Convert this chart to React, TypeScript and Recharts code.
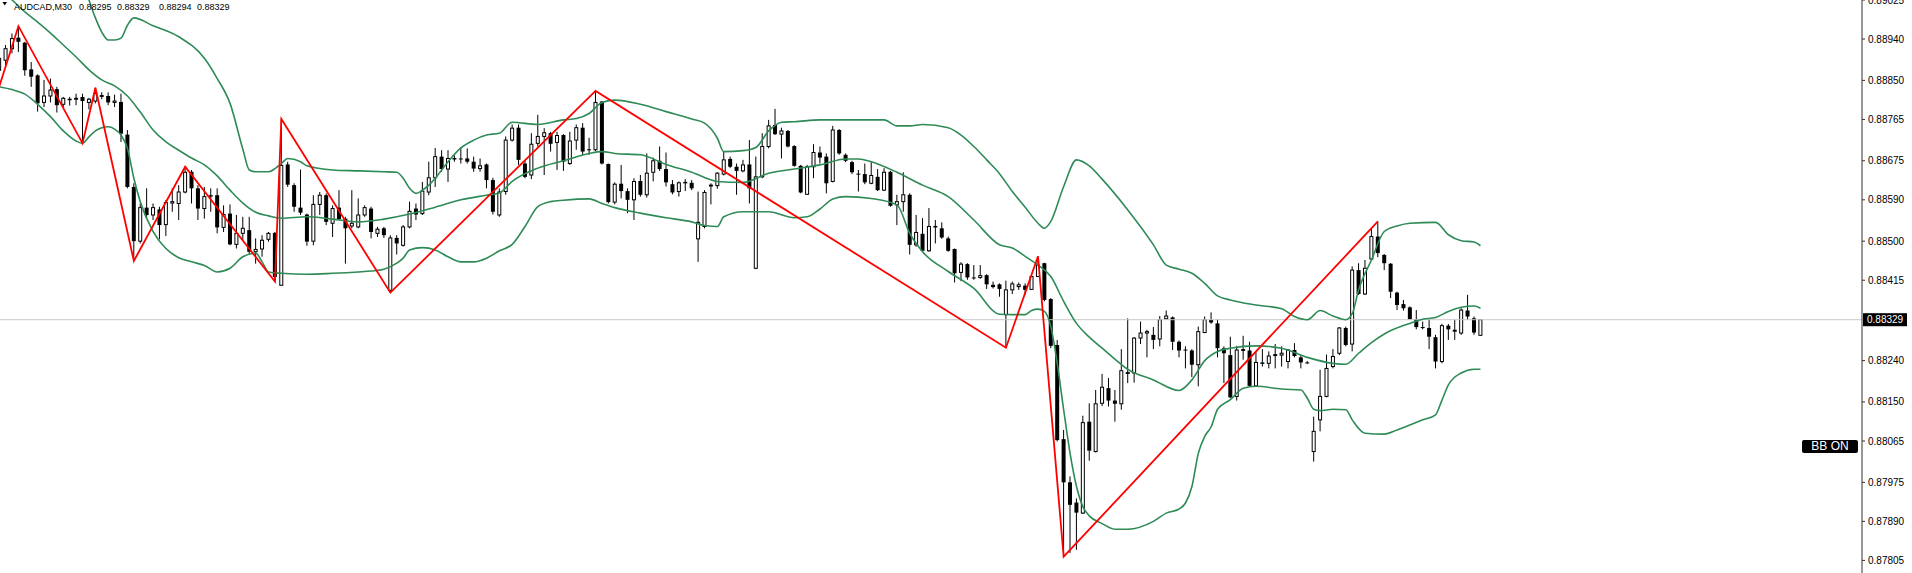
import { ComposedChart, Bar, Line, XAxis, YAxis, ReferenceLine } from 'recharts';

// AUDCAD M30 candles (oldest first)
const OPEN = [
  0.88872, 0.88894, 0.88919, 0.88943, 0.88932, 0.88874, 0.88861, 0.88802, 0.88816, 0.88831,
  0.88798, 0.88808, 0.88809, 0.88814, 0.88802, 0.88805, 0.88818, 0.88816, 0.88802, 0.88803,
  0.88732, 0.88618, 0.88500, 0.88573, 0.88557, 0.88569, 0.88536, 0.88583, 0.88582, 0.88607,
  0.88651, 0.88615, 0.88571, 0.88600, 0.88600, 0.88530, 0.88560, 0.88493, 0.88517, 0.88524,
  0.88477, 0.88483, 0.88504, 0.88518, 0.88404, 0.88667, 0.88622, 0.88573, 0.88558, 0.88500,
  0.88580, 0.88600, 0.88539, 0.88573, 0.88549, 0.88533, 0.88531, 0.88557, 0.88571, 0.88517,
  0.88528, 0.88393, 0.88507, 0.88491, 0.88531, 0.88571, 0.88560, 0.88607, 0.88638, 0.88684,
  0.88657, 0.88679, 0.88680, 0.88680, 0.88673, 0.88658, 0.88667, 0.88633, 0.88557, 0.88608,
  0.88720, 0.88747, 0.88669, 0.88644, 0.88713, 0.88728, 0.88735, 0.88715, 0.88731, 0.88669,
  0.88720, 0.88747, 0.88700, 0.88699, 0.88804, 0.88668, 0.88585, 0.88625, 0.88609, 0.88590,
  0.88631, 0.88601, 0.88650, 0.88675, 0.88657, 0.88624, 0.88608, 0.88627, 0.88627, 0.88505,
  0.88532, 0.88620, 0.88621, 0.88646, 0.88679, 0.88662, 0.88653, 0.88667, 0.88441, 0.88640,
  0.88706, 0.88753, 0.88733, 0.88740, 0.88707, 0.88664, 0.88602, 0.88662, 0.88693, 0.88684,
  0.88630, 0.88742, 0.88688, 0.88672, 0.88647, 0.88646, 0.88626, 0.88640, 0.88611, 0.88651,
  0.88579, 0.88586, 0.88601, 0.88492, 0.88516, 0.88479, 0.88531, 0.88528, 0.88506, 0.88483,
  0.88432, 0.88450, 0.88421, 0.88421, 0.88426, 0.88405, 0.88406, 0.88340, 0.88394, 0.88401,
  0.88403, 0.88395, 0.88423, 0.88452, 0.88374, 0.88274, 0.88069, 0.87975, 0.87931, 0.87908,
  0.88107, 0.88042, 0.88147, 0.88180, 0.88153, 0.88146, 0.88215, 0.88213, 0.88289, 0.88300,
  0.88296, 0.88287, 0.88331, 0.88334, 0.88281, 0.88264, 0.88262, 0.88231, 0.88301, 0.88329,
  0.88321, 0.88267, 0.88252, 0.88162, 0.88265, 0.88262, 0.88185, 0.88234, 0.88234, 0.88251,
  0.88252, 0.88238, 0.88263, 0.88247, 0.88236, 0.88042, 0.88111, 0.88162, 0.88227, 0.88256,
  0.88311, 0.88276, 0.88437, 0.88385, 0.88461, 0.88510, 0.88470, 0.88451, 0.88388, 0.88363,
  0.88356, 0.88330, 0.88313, 0.88311, 0.88291, 0.88238, 0.88316, 0.88304, 0.88300, 0.88349,
  0.88332, 0.88295,
];

const HIGH = [
  0.88905, 0.88927, 0.88952, 0.88968, 0.88934, 0.88890, 0.88863, 0.88851, 0.88854, 0.88836,
  0.88814, 0.88814, 0.88821, 0.88821, 0.88812, 0.88834, 0.88824, 0.88824, 0.88819, 0.88821,
  0.88742, 0.88626, 0.88582, 0.88615, 0.88582, 0.88575, 0.88589, 0.88615, 0.88622, 0.88662,
  0.88655, 0.88622, 0.88618, 0.88615, 0.88615, 0.88578, 0.88580, 0.88557, 0.88553, 0.88553,
  0.88506, 0.88513, 0.88520, 0.88520, 0.88766, 0.88673, 0.88626, 0.88656, 0.88560, 0.88600,
  0.88607, 0.88604, 0.88578, 0.88611, 0.88553, 0.88611, 0.88593, 0.88578, 0.88575, 0.88531,
  0.88531, 0.88513, 0.88513, 0.88535, 0.88586, 0.88582, 0.88629, 0.88673, 0.88703, 0.88698,
  0.88698, 0.88687, 0.88705, 0.88702, 0.88684, 0.88680, 0.88669, 0.88638, 0.88615, 0.88728,
  0.88754, 0.88754, 0.88675, 0.88735, 0.88775, 0.88746, 0.88738, 0.88738, 0.88733, 0.88738,
  0.88754, 0.88757, 0.88725, 0.88827, 0.88805, 0.88669, 0.88628, 0.88666, 0.88615, 0.88637,
  0.88644, 0.88691, 0.88682, 0.88706, 0.88693, 0.88633, 0.88630, 0.88635, 0.88633, 0.88608,
  0.88611, 0.88626, 0.88650, 0.88696, 0.88684, 0.88669, 0.88677, 0.88720, 0.88684, 0.88735,
  0.88764, 0.88788, 0.88747, 0.88742, 0.88709, 0.88666, 0.88666, 0.88711, 0.88706, 0.88691,
  0.88751, 0.88744, 0.88691, 0.88675, 0.88655, 0.88669, 0.88672, 0.88657, 0.88659, 0.88653,
  0.88601, 0.88650, 0.88604, 0.88557, 0.88550, 0.88572, 0.88546, 0.88541, 0.88510, 0.88484,
  0.88454, 0.88452, 0.88448, 0.88448, 0.88428, 0.88412, 0.88408, 0.88414, 0.88412, 0.88410,
  0.88408, 0.88429, 0.88467, 0.88453, 0.88376, 0.88285, 0.88089, 0.87988, 0.87940, 0.88120,
  0.88147, 0.88176, 0.88211, 0.88202, 0.88176, 0.88265, 0.88332, 0.88291, 0.88325, 0.88307,
  0.88313, 0.88337, 0.88349, 0.88336, 0.88284, 0.88271, 0.88265, 0.88314, 0.88336, 0.88345,
  0.88330, 0.88271, 0.88292, 0.88272, 0.88294, 0.88281, 0.88260, 0.88265, 0.88260, 0.88276,
  0.88271, 0.88265, 0.88278, 0.88252, 0.88239, 0.88118, 0.88220, 0.88253, 0.88265, 0.88313,
  0.88314, 0.88445, 0.88452, 0.88459, 0.88528, 0.88543, 0.88472, 0.88452, 0.88390, 0.88372,
  0.88358, 0.88350, 0.88325, 0.88329, 0.88296, 0.88320, 0.88320, 0.88329, 0.88354, 0.88383,
  0.88336, 0.88329,
];

const LOW = [
  0.88869, 0.88883, 0.88909, 0.88912, 0.88860, 0.88836, 0.88782, 0.88792, 0.88802, 0.88780,
  0.88792, 0.88795, 0.88796, 0.88713, 0.88787, 0.88800, 0.88809, 0.88796, 0.88792, 0.88716,
  0.88615, 0.88457, 0.88495, 0.88549, 0.88546, 0.88504, 0.88511, 0.88564, 0.88546, 0.88604,
  0.88582, 0.88546, 0.88549, 0.88564, 0.88517, 0.88520, 0.88491, 0.88484, 0.88502, 0.88473,
  0.88451, 0.88466, 0.88499, 0.88412, 0.88403, 0.88618, 0.88564, 0.88557, 0.88490, 0.88491,
  0.88557, 0.88535, 0.88509, 0.88546, 0.88451, 0.88528, 0.88528, 0.88553, 0.88506, 0.88509,
  0.88507, 0.88388, 0.88471, 0.88488, 0.88528, 0.88546, 0.88557, 0.88600, 0.88618, 0.88651,
  0.88629, 0.88673, 0.88669, 0.88669, 0.88651, 0.88651, 0.88615, 0.88558, 0.88553, 0.88601,
  0.88717, 0.88666, 0.88637, 0.88635, 0.88706, 0.88644, 0.88695, 0.88655, 0.88653, 0.88666,
  0.88699, 0.88688, 0.88688, 0.88696, 0.88667, 0.88582, 0.88580, 0.88593, 0.88561, 0.88546,
  0.88597, 0.88595, 0.88630, 0.88653, 0.88619, 0.88602, 0.88597, 0.88609, 0.88611, 0.88455,
  0.88528, 0.88580, 0.88614, 0.88643, 0.88659, 0.88601, 0.88650, 0.88582, 0.88439, 0.88637,
  0.88702, 0.88731, 0.88680, 0.88704, 0.88662, 0.88604, 0.88601, 0.88637, 0.88669, 0.88604,
  0.88628, 0.88688, 0.88672, 0.88646, 0.88608, 0.88624, 0.88624, 0.88609, 0.88609, 0.88575,
  0.88535, 0.88564, 0.88471, 0.88488, 0.88477, 0.88477, 0.88495, 0.88505, 0.88477, 0.88410,
  0.88413, 0.88416, 0.88416, 0.88418, 0.88396, 0.88397, 0.88379, 0.88268, 0.88385, 0.88394,
  0.88383, 0.88394, 0.88422, 0.88369, 0.88267, 0.88064, 0.87813, 0.87821, 0.87828, 0.87906,
  0.88022, 0.88040, 0.88141, 0.88140, 0.88107, 0.88133, 0.88191, 0.88192, 0.88276, 0.88247,
  0.88265, 0.88271, 0.88329, 0.88263, 0.88247, 0.88223, 0.88204, 0.88184, 0.88300, 0.88320,
  0.88247, 0.88191, 0.88158, 0.88153, 0.88242, 0.88182, 0.88184, 0.88227, 0.88223, 0.88223,
  0.88227, 0.88223, 0.88247, 0.88223, 0.88233, 0.88020, 0.88086, 0.88160, 0.88223, 0.88252,
  0.88271, 0.88260, 0.88383, 0.88383, 0.88459, 0.88465, 0.88437, 0.88376, 0.88350, 0.88349,
  0.88329, 0.88308, 0.88308, 0.88265, 0.88223, 0.88234, 0.88285, 0.88285, 0.88296, 0.88329,
  0.88296, 0.88294,
];

const CLOSE = [
  0.88898, 0.88919, 0.88941, 0.88934, 0.88872, 0.88858, 0.88800, 0.88816, 0.88829, 0.88796,
  0.88811, 0.88809, 0.88811, 0.88805, 0.88809, 0.88821, 0.88814, 0.88802, 0.88805, 0.88734,
  0.88618, 0.88500, 0.88573, 0.88557, 0.88573, 0.88535, 0.88584, 0.88586, 0.88607, 0.88650,
  0.88615, 0.88571, 0.88597, 0.88597, 0.88530, 0.88558, 0.88493, 0.88517, 0.88528, 0.88477,
  0.88482, 0.88502, 0.88517, 0.88422, 0.88665, 0.88623, 0.88575, 0.88562, 0.88499, 0.88580,
  0.88600, 0.88542, 0.88571, 0.88548, 0.88528, 0.88539, 0.88557, 0.88573, 0.88520, 0.88526,
  0.88513, 0.88507, 0.88495, 0.88531, 0.88565, 0.88558, 0.88609, 0.88638, 0.88684, 0.88657,
  0.88680, 0.88680, 0.88678, 0.88673, 0.88658, 0.88664, 0.88633, 0.88564, 0.88607, 0.88720,
  0.88746, 0.88677, 0.88640, 0.88711, 0.88728, 0.88736, 0.88712, 0.88730, 0.88673, 0.88718,
  0.88747, 0.88695, 0.88698, 0.88802, 0.88669, 0.88585, 0.88624, 0.88609, 0.88590, 0.88630,
  0.88601, 0.88648, 0.88675, 0.88657, 0.88628, 0.88606, 0.88627, 0.88628, 0.88615, 0.88541,
  0.88606, 0.88622, 0.88648, 0.88677, 0.88662, 0.88653, 0.88666, 0.88615, 0.88640, 0.88706,
  0.88751, 0.88733, 0.88740, 0.88706, 0.88664, 0.88606, 0.88662, 0.88693, 0.88682, 0.88626,
  0.88742, 0.88691, 0.88675, 0.88650, 0.88646, 0.88628, 0.88643, 0.88611, 0.88650, 0.88577,
  0.88586, 0.88601, 0.88492, 0.88519, 0.88479, 0.88532, 0.88532, 0.88508, 0.88479, 0.88430,
  0.88450, 0.88421, 0.88420, 0.88425, 0.88406, 0.88400, 0.88396, 0.88394, 0.88407, 0.88405,
  0.88394, 0.88423, 0.88448, 0.88372, 0.88272, 0.88067, 0.87975, 0.87926, 0.87909, 0.88105,
  0.88044, 0.88146, 0.88182, 0.88153, 0.88146, 0.88218, 0.88211, 0.88289, 0.88300, 0.88303,
  0.88285, 0.88329, 0.88337, 0.88281, 0.88262, 0.88263, 0.88231, 0.88303, 0.88329, 0.88323,
  0.88267, 0.88256, 0.88160, 0.88263, 0.88261, 0.88185, 0.88236, 0.88235, 0.88250, 0.88253,
  0.88256, 0.88263, 0.88250, 0.88236, 0.88235, 0.88086, 0.88162, 0.88223, 0.88249, 0.88311,
  0.88274, 0.88437, 0.88385, 0.88441, 0.88510, 0.88474, 0.88452, 0.88390, 0.88361, 0.88354,
  0.88330, 0.88313, 0.88312, 0.88292, 0.88238, 0.88316, 0.88308, 0.88306, 0.88350, 0.88336,
  0.88301, 0.88329,
];

// Bollinger bands as [bar, price]
const BB_UPPER: [number, number][] = [
  [0, 0.8925], [4, 0.8924], [8, 0.892], [12, 0.8911], [14, 0.89025], [15, 0.88986], [16, 0.88955],
  [17, 0.88938], [18, 0.88938], [19, 0.88942], [20, 0.8897], [21, 0.88986], [24, 0.88969],
  [28, 0.88945], [32, 0.88898], [34, 0.88854], [36, 0.888], [38, 0.887], [39, 0.88655],
  [40, 0.88651], [42, 0.88651], [44, 0.88669], [45, 0.8868], [47, 0.88673], [48, 0.88664],
  [52, 0.88655], [56, 0.88653], [60, 0.88651], [62, 0.8865], [63, 0.88637], [64, 0.88615],
  [65, 0.88604], [66, 0.88611], [67, 0.88622], [68, 0.88637], [70, 0.88673], [72, 0.88703],
  [74, 0.8872], [76, 0.88731], [78, 0.88735], [80, 0.88759], [84, 0.88754], [88, 0.88764],
  [90, 0.88767], [92, 0.88778], [94, 0.88802], [96, 0.88807], [100, 0.88798], [104, 0.88782],
  [108, 0.88766], [110, 0.88757], [112, 0.88724], [113, 0.88695], [116, 0.88697], [118, 0.88704],
  [120, 0.8874], [122, 0.88759], [124, 0.8876], [128, 0.88764], [132, 0.88764], [136, 0.88764],
  [138, 0.88764], [140, 0.88751], [142, 0.88751], [144, 0.88754], [148, 0.88747], [150, 0.88731],
  [152, 0.88706], [154, 0.88677], [156, 0.88647], [158, 0.88608], [160, 0.88574], [162, 0.88539],
  [163, 0.88528], [164, 0.88543], [166, 0.88619], [168, 0.88677], [170, 0.88664], [172, 0.88635],
  [176, 0.88568], [180, 0.88492], [182, 0.88448], [184, 0.88439], [186, 0.8843], [188, 0.88408],
  [190, 0.88381], [192, 0.88372], [196, 0.88361], [200, 0.88353], [202, 0.88336], [204, 0.88329],
  [206, 0.88349], [208, 0.88337], [210, 0.88329], [211, 0.88342], [212, 0.88394], [214, 0.88459],
  [216, 0.88521], [218, 0.88533], [220, 0.88539], [224, 0.88541], [226, 0.88514], [228, 0.88501],
  [230, 0.88498], [231, 0.8849],
];

const BB_MIDDLE: [number, number][] = [
  [0, 0.89047], [2, 0.89025], [4, 0.88999], [6, 0.88977], [8, 0.88953], [10, 0.88927],
  [12, 0.88901], [14, 0.88873], [16, 0.88851], [18, 0.88838], [20, 0.88816], [22, 0.88781],
  [24, 0.88742], [26, 0.88716], [28, 0.88698], [30, 0.88681], [32, 0.88666], [34, 0.88642],
  [36, 0.88611], [38, 0.88583], [40, 0.88563], [42, 0.88555], [44, 0.8855], [48, 0.88553],
  [52, 0.88548], [56, 0.88542], [60, 0.88548], [64, 0.88559], [68, 0.88574], [72, 0.8859],
  [76, 0.886], [78, 0.88605], [80, 0.8863], [84, 0.88659], [88, 0.88675], [92, 0.88691],
  [94, 0.88695], [96, 0.88691], [100, 0.88688], [104, 0.88667], [108, 0.8865], [112, 0.8863],
  [116, 0.88628], [120, 0.88648], [124, 0.88657], [128, 0.88666], [132, 0.88679], [134, 0.88679],
  [136, 0.88673], [140, 0.8865], [144, 0.88622], [148, 0.88597], [152, 0.88546], [156, 0.88492],
  [158, 0.88485], [160, 0.88467], [162, 0.88448], [164, 0.88423], [166, 0.88369], [168, 0.88321],
  [170, 0.88291], [172, 0.88267], [174, 0.88243], [176, 0.88221], [180, 0.88198], [184, 0.88175],
  [186, 0.88198], [188, 0.8824], [190, 0.8826], [192, 0.88267], [196, 0.88272], [200, 0.88267],
  [204, 0.88247], [208, 0.88234], [210, 0.88232], [212, 0.88256], [214, 0.88279], [216, 0.88298],
  [220, 0.88321], [222, 0.8833], [224, 0.88334], [226, 0.88347], [228, 0.88356], [230, 0.88359],
  [231, 0.88354],
];

const BB_LOWER: [number, number][] = [
  [0, 0.88836], [2, 0.8883], [4, 0.8882], [6, 0.88798], [8, 0.88771], [10, 0.8874], [12, 0.88718],
  [13, 0.88713], [14, 0.88727], [15, 0.8874], [16, 0.88747], [17, 0.88749], [18, 0.88744],
  [19, 0.88731], [20, 0.88702], [21, 0.88637], [22, 0.88586], [24, 0.88521], [26, 0.88484],
  [28, 0.88464], [30, 0.88455], [32, 0.88447], [34, 0.88433], [36, 0.88441], [38, 0.88466],
  [40, 0.88474], [41, 0.88455], [42, 0.88433], [44, 0.8843], [48, 0.88428], [52, 0.8843],
  [56, 0.88433], [58, 0.88435], [60, 0.88439], [62, 0.88452], [63, 0.88463], [64, 0.88481],
  [66, 0.88486], [68, 0.88481], [70, 0.88466], [72, 0.88455], [74, 0.88455], [76, 0.88463],
  [78, 0.88479], [80, 0.88493], [82, 0.88532], [84, 0.88575], [86, 0.88586], [88, 0.88589],
  [92, 0.88592], [94, 0.88582], [96, 0.88573], [100, 0.88561], [104, 0.88551], [108, 0.88542],
  [110, 0.88534], [112, 0.88532], [113, 0.88553], [116, 0.88564], [120, 0.88564], [124, 0.88551],
  [126, 0.88553], [128, 0.8857], [130, 0.88592], [132, 0.88597], [136, 0.88593], [140, 0.88579],
  [142, 0.88517], [144, 0.88477], [148, 0.88434], [152, 0.88397], [156, 0.88341], [158, 0.8834],
  [160, 0.8834], [161, 0.88349], [162, 0.88352], [163, 0.88347], [164, 0.88314], [165, 0.88234],
  [166, 0.88133], [167, 0.88038], [168, 0.87966], [169, 0.87922], [170, 0.87902], [172, 0.87885],
  [174, 0.87873], [176, 0.87873], [180, 0.8789], [182, 0.87908], [184, 0.87917], [185, 0.8793],
  [186, 0.87966], [187, 0.88038], [188, 0.88075], [189, 0.88096], [190, 0.88134], [192, 0.88155],
  [194, 0.8818], [196, 0.88184], [200, 0.88178], [203, 0.88176], [204, 0.88158], [205, 0.88134],
  [206, 0.88131], [208, 0.88134], [210, 0.88133], [211, 0.88111], [213, 0.88082], [216, 0.8808],
  [218, 0.88089], [222, 0.88111], [224, 0.88122], [225, 0.88154], [226, 0.88187], [228, 0.88213],
  [230, 0.88221], [231, 0.88221],
];

// ZigZag pivots as [bar, price]
const ZIGZAG: [number, number][] = [
  [0, 0.88836], [3, 0.88968], [13, 0.88713], [15, 0.88834], [21, 0.88457], [29, 0.88662],
  [43, 0.88412], [44, 0.88766], [61, 0.88388], [93, 0.88827], [157, 0.88268], [162, 0.88467],
  [166, 0.87813], [215, 0.88543],
];

const PRICE_TICKS = [
  0.89025, 0.8894, 0.8885, 0.88765, 0.88675, 0.8859, 0.885, 0.88415,
  0.8824, 0.8815, 0.88065, 0.87975, 0.8789, 0.87805,
];

const SLOTS = 291; // bars plus the empty shift area on the right
const BB_COLOR = '#2e8b57';
const FONT = '"Liberation Sans", Arial, sans-serif';

type Row = {
  i: number;
  open: number | null;
  high: number | null;
  low: number | null;
  close: number | null;
  range: [number, number] | null;
  upper: number | null;
  middle: number | null;
  lower: number | null;
  zz: number | null;
};

const rows: Row[] = Array.from({ length: SLOTS }, (_, i) => {
  const has = i < OPEN.length;
  return {
    i,
    open: has ? OPEN[i] : null,
    high: has ? HIGH[i] : null,
    low: has ? LOW[i] : null,
    close: has ? CLOSE[i] : null,
    range: has ? [LOW[i], HIGH[i]] : null,
    upper: null,
    middle: null,
    lower: null,
    zz: null,
  };
});
BB_UPPER.forEach(([i, v]) => (rows[i].upper = v));
BB_MIDDLE.forEach(([i, v]) => (rows[i].middle = v));
BB_LOWER.forEach(([i, v]) => (rows[i].lower = v));
ZIGZAG.forEach(([i, v]) => (rows[i].zz = v));

const last = OPEN.length - 1;

function Candle(props: any) {
  const { x, y, width, height, payload } = props;
  if (!payload || payload.open == null || !isFinite(y) || !isFinite(height)) return null;
  const { open, close, high, low } = payload;
  const k = height / (high - low);
  const yOf = (v: number) => y + (high - v) * k;
  const cx = x + width / 2;
  const top = yOf(Math.max(open, close));
  const bot = yOf(Math.min(open, close));
  const bull = close >= open;
  return (
    <g>
      <line x1={cx} x2={cx} y1={y} y2={y + height} stroke="#000" strokeWidth={1} />
      {bull ? (
        <rect x={cx - 1.5} y={top} width={3} height={Math.max(bot - top, 0.5)} fill="#fff" stroke="#000" strokeWidth={1} />
      ) : (
        <rect x={cx - 2} y={top} width={4} height={Math.max(bot - top, 1)} fill="#000" />
      )}
    </g>
  );
}

function PriceTag(props: any) {
  const vb = props.viewBox;
  if (!vb) return null;
  const x = vb.x + vb.width;
  const y = vb.y;
  return (
    <g>
      <rect x={x + 1} y={y - 6.5} width={44} height={13} fill="#000" />
      <text x={x + 5} y={y + 3.5} fill="#fff" fontSize={10} fontFamily={FONT}>
        {CLOSE[last].toFixed(5)}
      </text>
    </g>
  );
}

export default function App() {
  const fmt = (v: number) => v.toFixed(5);
  return (
    <div style={{ position: 'absolute', left: 0, top: 0, width: 1912, height: 573, overflow: 'hidden', background: '#fff' }}>
      <div style={{ position: 'absolute', left: -4, top: 0 }}>
        <ComposedChart width={1916} height={573} data={rows} margin={{ top: 0, right: 0, bottom: 0, left: 0 }}>
          <XAxis dataKey="i" type="category" hide />
          <YAxis
            orientation="right"
            width={50}
            domain={[0.877776, 0.89025]}
            allowDataOverflow
            ticks={PRICE_TICKS}
            interval={0}
            tickSize={3}
            tickMargin={3}
            tickFormatter={fmt}
            axisLine={{ stroke: '#333' }}
            tickLine={{ stroke: '#333' }}
            tick={{ fontSize: 10, fill: '#000', fontFamily: FONT }}
          />
          <ReferenceLine y={CLOSE[last]} stroke="#c8c8c8" strokeWidth={1} label={<PriceTag />} />
          <Bar dataKey="range" shape={Candle} isAnimationActive={false} />
          <Line dataKey="upper" type="monotone" stroke={BB_COLOR} strokeWidth={1.6} dot={false} connectNulls isAnimationActive={false} />
          <Line dataKey="middle" type="monotone" stroke={BB_COLOR} strokeWidth={1.6} dot={false} connectNulls isAnimationActive={false} />
          <Line dataKey="lower" type="monotone" stroke={BB_COLOR} strokeWidth={1.6} dot={false} connectNulls isAnimationActive={false} />
          <Line dataKey="zz" type="linear" stroke="#ff0000" strokeWidth={1.8} dot={false} connectNulls isAnimationActive={false} />
        </ComposedChart>
      </div>
      <svg width={260} height={14} style={{ position: 'absolute', left: 0, top: 0 }}>
        <polygon points="2.5,2 7,2 4.75,5.5" fill="#000" />
        <text x={14} y={9.5} fontSize={9} fontFamily={FONT} fill="#000">AUDCAD,M30</text>
        <text x={79} y={9.5} fontSize={9} fontFamily={FONT} fill="#000">{fmt(OPEN[last])}</text>
        <text x={117} y={9.5} fontSize={9} fontFamily={FONT} fill="#000">{fmt(HIGH[last])}</text>
        <text x={159} y={9.5} fontSize={9} fontFamily={FONT} fill="#000">{fmt(LOW[last])}</text>
        <text x={197} y={9.5} fontSize={9} fontFamily={FONT} fill="#000">{fmt(CLOSE[last])}</text>
      </svg>
      <div
        style={{
          position: 'absolute',
          left: 1802,
          top: 440,
          width: 56,
          height: 13,
          background: '#000',
          color: '#fff',
          fontFamily: FONT,
          fontSize: 12,
          lineHeight: '13px',
          textAlign: 'center',
          borderRadius: 2,
        }}
      >
        BB ON
      </div>
    </div>
  );
}
